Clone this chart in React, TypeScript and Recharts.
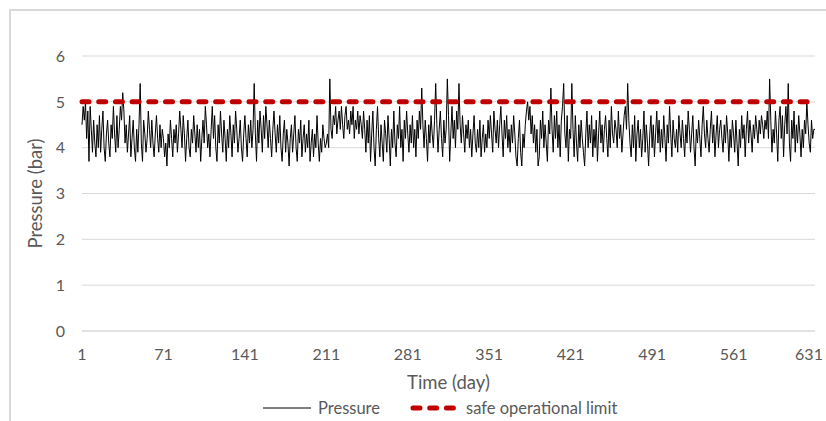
import React from "react";
import {
  LineChart, Line, XAxis, YAxis, CartesianGrid, Legend
} from "recharts";

// pressure readings, one per day (70 days per row block)
const pressure: number[] = [
  // 1-70
  4.5, 4.9, 4.6, 5.0, 4.2, 4.8, 3.7, 4.9, 4.4, 3.9,
  4.6, 4.1, 3.8, 4.5, 4.0, 4.7, 3.9, 4.4, 4.8, 4.0,
  3.7, 4.3, 4.6, 4.1, 3.8, 4.5, 4.2, 4.9, 4.3, 3.9,
  4.7, 4.0, 4.4, 4.9, 4.6, 5.2, 4.8, 4.1, 4.5, 3.9,
  4.3, 4.7, 3.8, 4.2, 4.6, 4.0, 3.7, 4.4, 3.9, 4.5,
  5.4, 4.1, 3.7, 4.6, 4.3, 3.9, 4.2, 4.8, 4.4, 4.0,
  4.6, 4.1, 3.8, 4.3, 4.7, 4.2, 3.9, 4.5, 4.0, 4.4,
  // 71-140
  4.2, 3.8, 4.1, 3.6, 4.3, 4.0, 4.6, 4.2, 3.8, 4.4,
  4.1, 4.5, 3.9, 4.3, 4.8, 4.4, 4.0, 4.7, 4.3, 3.7,
  4.2, 4.6, 4.0, 3.8, 4.4, 4.1, 4.7, 4.3, 3.9, 4.5,
  4.0, 4.4, 3.7, 4.2, 4.6, 4.1, 4.9, 4.5, 4.0, 4.3,
  3.8, 4.4, 4.9, 4.2, 4.7, 4.0, 3.7, 4.5, 4.1, 4.8,
  4.3, 3.9, 4.6, 4.2, 3.7, 4.4, 4.0, 4.7, 4.3, 3.8,
  4.5, 4.1, 4.8, 4.4, 3.9, 4.2, 4.6, 4.0, 3.7, 4.3,
  // 141-210
  4.7, 4.2, 3.8, 4.5, 4.1, 4.6, 4.0, 4.4, 5.4, 4.3,
  3.7, 4.6, 4.1, 4.8, 4.4, 3.9, 4.7, 4.2, 4.9, 4.5,
  4.0, 4.6, 4.2, 3.8, 4.4, 4.8, 4.3, 3.9, 4.5, 4.1,
  4.7, 4.0, 3.7, 4.3, 4.6, 3.9, 4.4, 4.1, 3.6, 4.2,
  4.5, 3.9, 4.3, 4.7, 4.0, 3.7, 4.4, 4.1, 4.6, 3.8,
  4.2, 4.5, 3.9, 4.3, 4.0, 4.6, 3.7, 4.1, 4.4, 3.8,
  4.3, 4.0, 4.7, 4.1, 3.7, 4.2, 3.9, 4.5, 4.2, 4.0,
  // 211-280
  4.1, 4.3, 4.0, 5.5, 4.4, 4.2, 4.7, 4.5, 4.9, 4.3,
  4.6, 4.8, 4.4, 4.9, 4.5, 4.2, 4.7, 4.9, 4.4, 4.6,
  4.3, 4.8, 4.5, 4.9, 4.2, 4.6, 4.4, 4.8, 4.3, 4.7,
  4.5, 4.2, 4.8, 4.4, 3.9, 4.6, 4.1, 4.7, 3.7, 4.3,
  4.8, 4.0, 3.6, 4.4, 4.9, 4.2, 3.8, 4.5, 4.1, 3.7,
  4.6, 4.3, 3.9, 4.7, 4.2, 3.6, 4.4, 4.0, 4.8, 4.1,
  3.8, 4.5, 4.2, 4.9, 4.0, 4.4, 3.7, 4.6, 4.2, 4.8,
  // 281-350
  4.3, 3.9, 4.5, 4.1, 4.7, 4.0, 4.4, 3.8, 4.6, 4.2,
  4.8, 4.4, 5.3, 4.5, 4.0, 4.6, 4.2, 3.7, 4.5, 4.1,
  4.7, 4.3, 4.0, 4.6, 5.4, 4.5, 3.9, 4.4, 4.8, 4.2,
  3.8, 4.6, 4.1, 4.4, 5.5, 4.7, 3.7, 4.3, 4.9, 4.2,
  4.6, 4.0, 4.8, 4.4, 5.4, 4.5, 4.1, 4.7, 4.3, 3.9,
  4.5, 4.2, 4.6, 4.0, 4.4, 3.8, 4.3, 4.7, 4.1, 3.9,
  4.4, 4.0, 4.6, 3.8, 4.2, 4.5, 3.9, 4.3, 4.0, 4.6,
  // 351-420
  4.2, 4.7, 4.3, 3.9, 4.8, 4.4, 4.1, 4.6, 4.0, 4.5,
  4.9, 4.3, 3.8, 4.6, 4.2, 4.7, 4.0, 4.4, 3.9, 4.5,
  4.1, 4.7, 4.3, 3.8, 3.6, 4.2, 4.6, 3.9, 3.6, 4.3,
  4.0, 4.5, 4.8, 5.0, 4.6, 4.9, 4.3, 4.7, 4.1, 4.5,
  3.9, 4.4, 3.6, 3.8, 4.6, 4.2, 4.8, 4.0, 4.5, 4.1,
  3.7, 4.6, 4.3, 5.3, 4.4, 3.9, 4.7, 4.2, 4.8, 4.0,
  4.5, 3.8, 4.6, 4.9, 5.4, 4.3, 4.0, 4.7, 3.7, 4.4,
  // 421-490
  4.2, 5.4, 4.4, 3.8, 4.7, 4.1, 3.7, 4.5, 4.0, 4.6,
  4.2, 3.9, 3.6, 4.3, 4.8, 4.0, 4.5, 4.1, 4.7, 3.8,
  4.4, 4.0, 4.6, 3.7, 4.3, 4.8, 4.1, 4.5, 3.9, 4.4,
  4.7, 4.2, 3.8, 4.6, 4.0, 4.9, 4.3, 4.1, 4.6, 4.4,
  4.0, 4.8, 4.2, 4.5, 3.9, 4.3, 4.7, 4.9, 4.4, 5.4,
  4.6, 4.1, 3.8, 4.5, 4.0, 4.7, 3.7, 4.3, 4.6, 4.0,
  4.4, 3.8, 4.2, 4.8, 3.9, 4.5, 4.1, 3.6, 4.3, 4.7,
  // 491-560
  4.0, 4.5, 3.8, 4.3, 4.8, 4.1, 4.6, 3.9, 4.4, 4.0,
  4.7, 4.2, 3.7, 4.5, 4.1, 4.9, 4.3, 3.8, 4.6, 4.2,
  4.0, 4.4, 3.9, 4.7, 4.3, 4.0, 4.6, 4.2, 3.8, 4.5,
  4.1, 4.8, 4.4, 3.9, 4.3, 4.7, 4.0, 3.6, 4.4, 4.1,
  4.6, 4.2, 3.8, 4.5, 4.9, 4.3, 4.0, 4.6, 4.2, 3.9,
  4.4, 4.8, 4.1, 4.5, 3.8, 4.3, 4.7, 4.0, 4.4, 4.6,
  4.2, 3.9, 4.5, 4.1, 4.7, 4.3, 3.7, 4.4, 4.0, 4.6,
  // 561-631
  4.3, 3.9, 4.6, 4.1, 3.6, 4.4, 4.0, 4.7, 4.2, 4.5,
  3.8, 4.4, 4.8, 4.1, 4.6, 4.3, 3.9, 4.5, 4.2, 4.7,
  4.4, 4.1, 4.6, 4.3, 4.7, 4.5, 4.2, 4.6, 4.4, 4.8,
  4.2, 5.5, 4.6, 3.9, 4.4, 4.1, 4.8, 4.3, 3.7, 4.6,
  4.9, 4.2, 4.7, 3.8, 4.5, 4.9, 4.3, 5.4, 4.1, 3.7,
  4.6, 4.2, 4.8, 3.9, 4.5, 4.1, 4.7, 4.3, 3.8, 4.4,
  4.0, 4.6, 4.3, 5.0, 4.5, 4.1, 3.9, 4.6, 4.2, 4.4,
  4.4,
];

const SAFE_LIMIT = 5;
const xTicks = [1, 71, 141, 211, 281, 351, 421, 491, 561, 631];
const yTicks = [0, 1, 2, 3, 4, 5, 6];

const rows = pressure.map((p, i) => ({ day: i + 1, pressure: p, limit: SAFE_LIMIT }));

const FONT = "Lato, 'Open Sans', sans-serif";
const GREY = "#595959";
const RED = "#c00000";

// keeps the last label inside the frame
function DayTick(props: any) {
  const { x, y, payload } = props;
  const cx = Math.min(x, 809);
  return (
    <text x={cx} y={y} dy="0.71em" textAnchor="middle" fontSize={16} fill={GREY} fontFamily={FONT}>
      {payload.value}
    </text>
  );
}

function ChartLegend() {
  return (
    <div style={{ display: "flex", alignItems: "center", height: 24, paddingLeft: 251, fontFamily: FONT, fontSize: 16.5, color: GREY }}>
      <svg width={48} height={8} style={{ flexShrink: 0 }}>
        <line x1={0} y1={4} x2={48} y2={4} stroke="#000" strokeWidth={1} />
      </svg>
      <span style={{ marginLeft: 7, marginRight: 30 }}>Pressure</span>
      <svg width={50} height={8} style={{ flexShrink: 0 }}>
        <line x1={3} y1={4} x2={48} y2={4} stroke={RED} strokeWidth={5} strokeDasharray="7 9.7" strokeLinecap="round" />
      </svg>
      <span style={{ marginLeft: 6 }}>safe operational limit</span>
    </div>
  );
}

export default function App() {
  return (
    <div style={{ position: "absolute", left: 0, top: 0, width: 826, height: 421, background: "#fff" }}>
      <div style={{ position: "absolute", left: 9, top: 9, right: 0, bottom: 0, borderTop: "2px solid #d9d9d9", borderLeft: "2px solid #d9d9d9" }} />
      <LineChart width={826} height={421} data={rows}
        margin={{ top: 56, right: 11, left: 12, bottom: 1 }}>
        <CartesianGrid vertical={false} stroke="#d9d9d9" />
        <XAxis dataKey="day" type="number" domain={[1, 631]} ticks={xTicks} interval={0}
          height={65} tickLine={false} tickMargin={12} axisLine={{ stroke: "#d9d9d9" }}
          tick={<DayTick />}
          label={{ value: "Time (day)", position: "insideBottom", offset: 7, fontSize: 18.5, fill: GREY, fontFamily: FONT }} />
        <YAxis domain={[0, 6]} ticks={yTicks} width={70} axisLine={false} tickLine={false} tickMargin={11}
          tick={{ fontSize: 16, fill: GREY, fontFamily: FONT }}
          label={{ value: "Pressure (bar)", angle: -90, position: "insideLeft", offset: 23, fontSize: 18.5, fill: GREY, fontFamily: FONT, style: { textAnchor: "middle" } }} />
        <Legend verticalAlign="bottom" content={() => <ChartLegend />} />
        <Line dataKey="pressure" name="Pressure" stroke="#000" strokeWidth={1} dot={false} isAnimationActive={false} />
        <Line dataKey="limit" name="safe operational limit" stroke={RED} strokeWidth={5}
          strokeDasharray="7 9.7" strokeLinecap="round" dot={false} isAnimationActive={false} />
      </LineChart>
    </div>
  );
}
